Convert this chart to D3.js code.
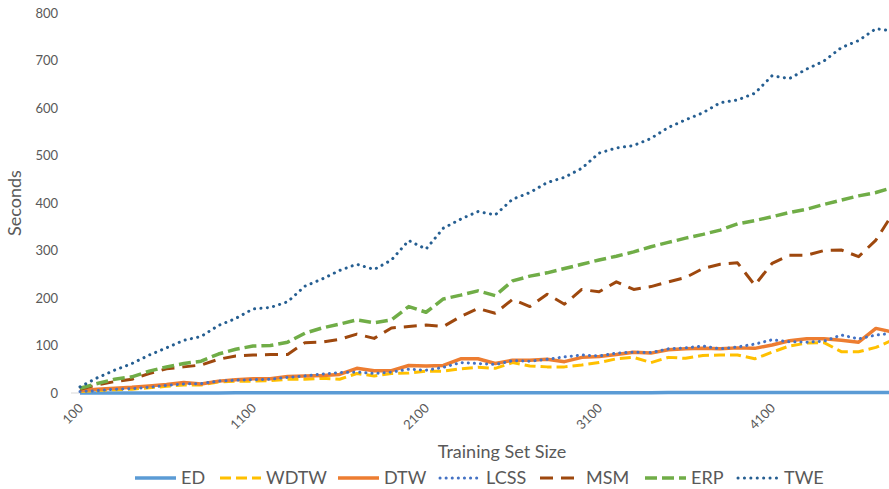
<!DOCTYPE html>
<html>
<head>
<meta charset="utf-8">
<script src="https://cdn.jsdelivr.net/npm/d3@7"></script>
<style>
  body { margin: 0; background: #fff; }
  text { font-family: Lato, "Open Sans", sans-serif; fill: #595959; }
</style>
</head>
<body>
<script>
var width = 889,
    height = 489;

// training set sizes
var sizes = [100,200,300,400,500,600,700,800,900,1000,1100,1200,1300,1400,1500,1600,
             1700,1800,1900,2000,2100,2200,2300,2400,2500,2600,2700,2800,2900,3000,3100,3200,
             3300,3400,3500,3600,3700,3800,3900,4000,4100,4200,4300,4400,4500,4600,4700,4800];
var xTickLabels = [100, 1100, 2100, 3100, 4100];
var yTickLabels = [0, 100, 200, 300, 400, 500, 600, 700, 800];

// seconds per method
var ED   = [0.1,0.1,0.1,0.1,0.2,0.2,0.2,0.2,0.2,0.3,0.3,0.3,0.3,0.3,0.4,0.4,
            0.4,0.4,0.4,0.5,0.5,0.5,0.5,0.5,0.6,0.6,0.6,0.6,0.6,0.7,0.7,0.7,
            0.7,0.7,0.8,0.8,0.8,0.8,0.8,0.9,0.9,0.9,0.9,0.9,1.0,1.0,1.0,1.0];
var WDTW = [3,5,7,8,11,14,17,17,23,25,25,26,29,29,31,29,41,36,41,42,46,46,51,54,
            52,64,57,55,55,59,64,72,75,64,75,73,79,80,80,72,86,99,105,106,87,87,96,112];
var DTW  = [5,8,10,12,15,18,22,19,25,28,30,30,35,36,37,39,52,47,47,58,57,58,72,72,
            62,69,69,71,66,75,77,81,86,84,91,93,94,93,95,94,101,110,114,114,111,107,136,128];
var LCSS = [3,5,8,9,12,16,19,20,25,27,28,29,33,36,40,43,44,41,44,50,48,54,64,62,
            60,68,67,71,76,80,78,84,86,85,93,95,99,93,97,103,112,108,107,109,122,114,122,126];
var MSM  = [8,17,24,29,41,51,55,59,71,78,80,81,81,106,107,113,124,115,137,140,143,140,161,178,
            168,197,182,208,187,218,213,234,218,224,234,243,262,271,274,227,273,290,290,300,301,287,322,379];
var ERP  = [10,20,29,34,46,55,62,67,82,92,99,100,107,126,137,145,154,148,154,182,170,198,206,215,
            205,236,246,253,262,271,280,288,297,308,317,326,334,343,356,363,371,380,387,397,406,415,422,433];
var TWE  = [13,32,48,62,80,95,111,119,142,157,177,180,192,225,240,258,271,260,280,321,303,347,366,382,
            375,408,422,443,454,473,505,516,521,536,559,575,590,611,617,631,668,662,682,699,727,742,767,762];

var series = [
  {name: "ED",   values: ED,   color: "#5B9BD5", width: 3.5, dash: null,     cap: "butt"},
  {name: "WDTW", values: WDTW, color: "#FFC000", width: 3,   dash: "11,5",   cap: "butt"},
  {name: "DTW",  values: DTW,  color: "#ED7D31", width: 3.5, dash: null,     cap: "butt"},
  {name: "LCSS", values: LCSS, color: "#4472C4", width: 3,   dash: "0.1,6",  cap: "round"},
  {name: "MSM",  values: MSM,  color: "#9E480E", width: 3,   dash: "13,8",   cap: "butt"},
  {name: "ERP",  values: ERP,  color: "#70AD47", width: 3.5, dash: "12,5",   cap: "butt"},
  {name: "TWE",  values: TWE,  color: "#255E91", width: 3,   dash: "0.1,6.3", cap: "round"}
];

var x = d3.scaleLinear().domain([100, 4800]).range([80, 893.2]);
var y = d3.scaleLinear().domain([0, 800]).range([393, 13]);

var svg = d3.select("body").append("svg")
    .attr("width", width)
    .attr("height", height);

// x axis line
svg.append("line")
    .attr("x1", 71).attr("x2", width)
    .attr("y1", y(0)).attr("y2", y(0))
    .attr("stroke", "#D9D9D9")
    .attr("stroke-width", 1);

// y tick labels
svg.append("g")
  .selectAll("text")
  .data(yTickLabels)
  .enter().append("text")
    .attr("x", 58)
    .attr("y", function(d) { return y(d); })
    .attr("dy", "0.35em")
    .attr("text-anchor", "end")
    .style("font-size", "13px")
    .text(function(d) { return d; });

// x tick labels, rotated
svg.append("g")
  .selectAll("text")
  .data(xTickLabels)
  .enter().append("text")
    .attr("transform", function(d) { return "translate(" + (x(d) + 4) + ",409)rotate(-45)"; })
    .attr("text-anchor", "end")
    .style("font-size", "13px")
    .text(function(d) { return d; });

// axis titles
svg.append("text")
    .attr("transform", "translate(21," + ((y(0) + y(800)) / 2) + ")rotate(-90)")
    .attr("text-anchor", "middle")
    .style("font-size", "18px")
    .text("Seconds");

svg.append("text")
    .attr("x", 502)
    .attr("y", 458)
    .attr("text-anchor", "middle")
    .style("font-size", "18px")
    .text("Training Set Size");

var line = d3.line()
    .x(function(d, i) { return x(sizes[i]); })
    .y(function(d) { return y(d); });

svg.append("g")
  .selectAll("path")
  .data(series)
  .enter().append("path")
    .attr("d", function(s) { return line(s.values); })
    .attr("fill", "none")
    .attr("stroke", function(s) { return s.color; })
    .attr("stroke-width", function(s) { return s.width; })
    .attr("stroke-dasharray", function(s) { return s.dash; })
    .attr("stroke-linecap", function(s) { return s.cap; })
    .attr("stroke-linejoin", "round");

// legend
var legendX = [135, 220, 338, 440, 540, 645, 738];
var legend = svg.append("g")
  .selectAll("g")
  .data(series)
  .enter().append("g")
    .attr("transform", function(s, i) { return "translate(" + legendX[i] + ",478)"; });

legend.append("line")
    .attr("x1", 0).attr("x2", 41)
    .attr("stroke", function(s) { return s.color; })
    .attr("stroke-width", function(s) { return s.width; })
    .attr("stroke-dasharray", function(s) { return s.dash; })
    .attr("stroke-linecap", function(s) { return s.cap; });

legend.append("text")
    .attr("x", 46)
    .attr("dy", "0.35em")
    .style("font-size", "18px")
    .text(function(s) { return s.name; });
</script>
</body>
</html>
